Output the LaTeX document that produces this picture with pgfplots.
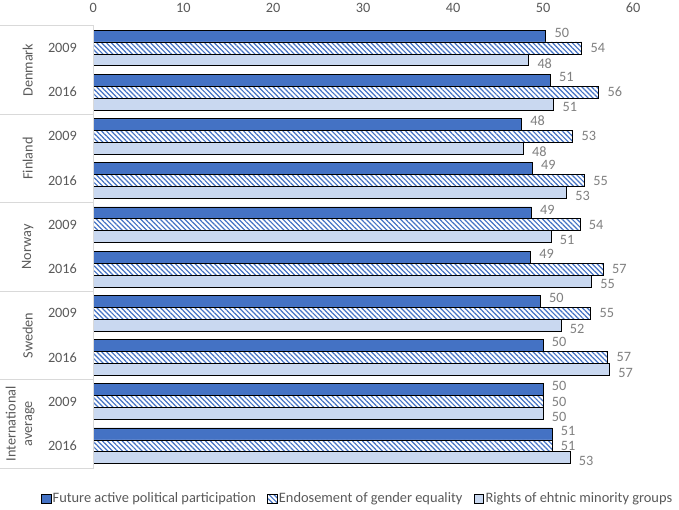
\documentclass[border=0pt]{standalone}
\usepackage{fontspec}
\setmainfont{Carlito}
\usepackage{pgfplots}
\pgfplotsset{compat=1.18}
\usetikzlibrary{patterns,patterns.meta}
\definecolor{dblue}{HTML}{4472C4}
\definecolor{lblue}{HTML}{C9D8F0}
\definecolor{txtgray}{HTML}{595959}
\definecolor{lblgray}{HTML}{7F7F7F}
\definecolor{sepgray}{HTML}{D9D9D9}

\pgfplotstableread{
val pos
50.3 0
50.8 1
47.6 2
48.8 3
48.7 4
48.6 5
49.7 6
50.0 7
50.0 8
51.0 9
}\seriesA
\pgfplotstableread{
val pos
54.3 0
56.2 1
53.3 2
54.6 3
54.1 4
56.7 5
55.3 6
57.2 7
50.0 8
51.0 9
}\seriesB
\pgfplotstableread{
val pos
48.4 0
51.2 1
47.8 2
52.6 3
50.9 4
55.4 5
52.0 6
57.4 7
50.0 8
53.0 9
}\seriesC

\begin{document}
\begin{tikzpicture}
\useasboundingbox (0,0) rectangle (509.25pt,382.5pt);
\begin{axis}[
  at={(70pt,31.5pt)}, anchor=south west,
  width=404.75pt, height=331.6pt, scale only axis,
  xbar, bar width=0.27,
  xmin=0, xmax=60, ymin=-0.5, ymax=9.5,
  y dir=reverse,
  xtick={0,10,...,60},
  xticklabel pos=top,
  xticklabel style={yshift=6.5pt},
  ytick={0,...,9},
  yticklabels={2009,2016,2009,2016,2009,2016,2009,2016,2009,2016},
  axis line style={draw=none},
  tick style={draw=none},
  ticklabel style={font=\fontsize{10.7}{12.5}\selectfont, text=txtgray},
  yticklabel style={xshift=-4.5pt},
  /pgf/number format/assume math mode=true,
  clip=false,
  point meta=x,
  nodes near coords={\pgfmathprintnumber[fixed,precision=0]{\pgfplotspointmeta}},
  nodes near coords style={font=\fontsize{10.7}{12.5}\selectfont, text=lblgray, anchor=west, xshift=3pt},
  legend columns=3,
  legend style={at={(0.489,-0.0701)}, anchor=center, draw=none, fill=none,
    font=\fontsize{10.8}{12.5}\selectfont, text=txtgray,
    nodes={inner xsep=1pt},
    /tikz/every even column/.append style={column sep=7.5pt}},
  legend image code/.code={\draw[#1] (0pt,-3.6pt) rectangle (7.2pt,3.6pt);},
]
\addplot[fill=dblue, draw=black, line width=0.6pt, bar shift=-0.27,
  every node near coord/.append style={yshift=2.5pt}] table[x=val,y=pos] {\seriesA};
\addplot[fill=white, draw=black, line width=0.6pt, bar shift=0,
  postaction={pattern={Lines[angle=-45,distance=2.6pt,line width=0.9pt]}, pattern color=dblue}] table[x=val,y=pos] {\seriesB};
\addplot[fill=lblue, draw=black, line width=0.6pt, bar shift=0.27,
  every node near coord/.append style={yshift=-2.5pt}] table[x=val,y=pos] {\seriesC};
\legend{Future active political participation, Endosement of gender equality, Rights of ehtnic minority groups}

\draw[sepgray, line width=0.75pt] (axis cs:-10.37,-0.5) -- (axis cs:0,-0.5) -- (axis cs:0,9.5) -- (axis cs:-10.37,9.5);
\draw[sepgray, line width=0.75pt] (axis cs:-10.37,1.5) -- (axis cs:0,1.5);
\draw[sepgray, line width=0.75pt] (axis cs:-10.37,3.5) -- (axis cs:0,3.5);
\draw[sepgray, line width=0.75pt] (axis cs:-10.37,5.5) -- (axis cs:0,5.5);
\draw[sepgray, line width=0.75pt] (axis cs:-10.37,7.5) -- (axis cs:0,7.5);
\node[rotate=90, text=txtgray, font=\fontsize{10.7}{12.5}\selectfont] at (axis cs:-7.3,0.5) {Denmark};
\node[rotate=90, text=txtgray, font=\fontsize{10.7}{12.5}\selectfont] at (axis cs:-7.3,2.5) {Finland};
\node[rotate=90, text=txtgray, font=\fontsize{10.7}{12.5}\selectfont] at (axis cs:-7.3,4.5) {Norway};
\node[rotate=90, text=txtgray, font=\fontsize{10.7}{12.5}\selectfont] at (axis cs:-7.3,6.5) {Sweden};
\node[rotate=90, text=txtgray, font=\fontsize{10.7}{12.5}\selectfont, align=center] at (axis cs:-8.14,8.5) {International\\average};
\end{axis}
\end{tikzpicture}
\end{document}
